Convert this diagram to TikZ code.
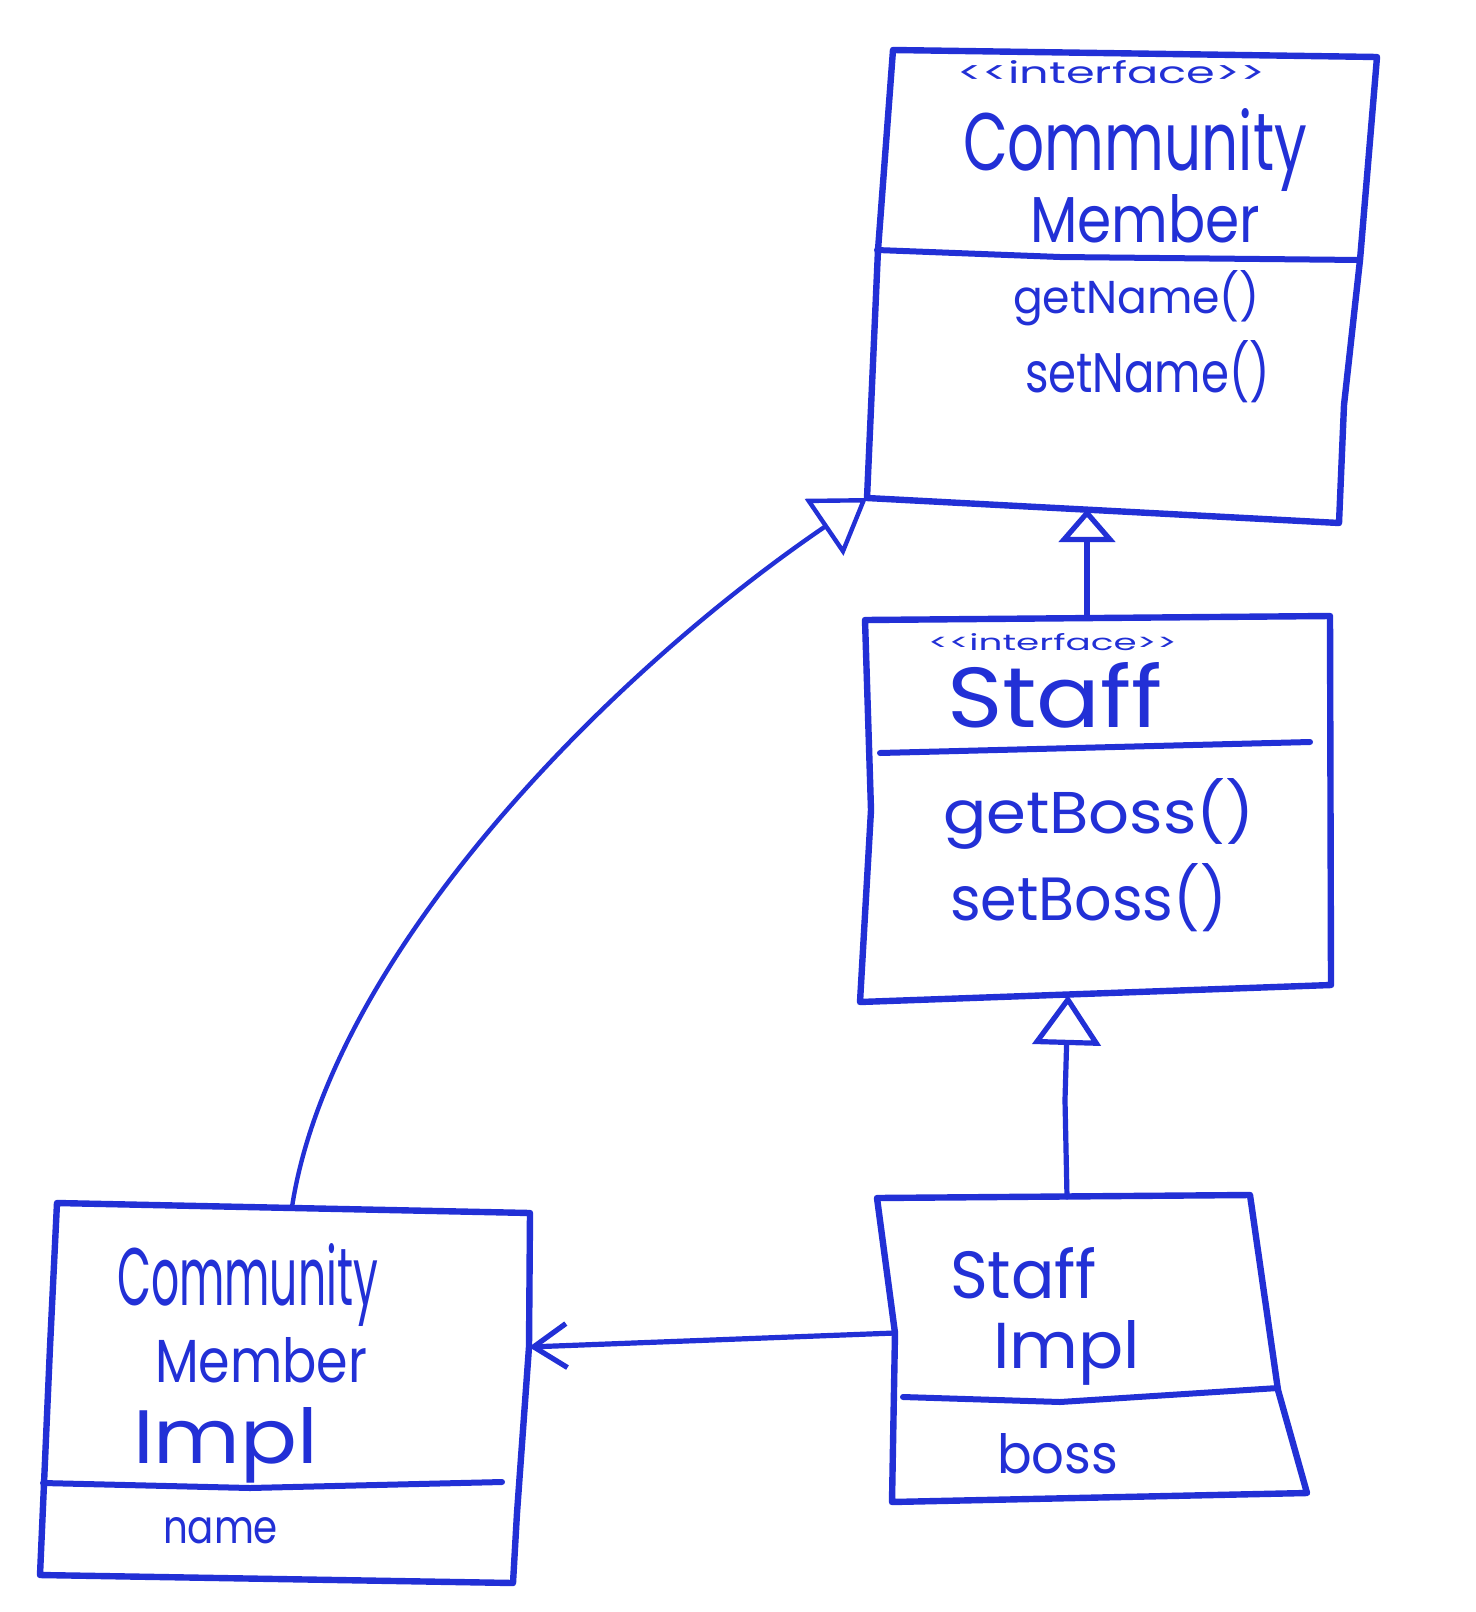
\documentclass[tikz,border=0pt]{standalone}
\usepackage{fontspec}
\setmainfont{Poppins}
\usetikzlibrary{arrows.meta}
\definecolor{handblue}{RGB}{34,48,214}
\newlength\pxu
\setlength\pxu{0.5pt}
\newcommand\fitbox[3]{\resizebox{#1\pxu}{#2\pxu}{#3}}
\newcommand\stereo{<\kern0pt<interface>\kern0pt>}
\begin{document}
\begin{tikzpicture}[x=0.5pt,y=-0.5pt,
  outline/.style={draw=handblue, line width=3.2pt, line join=round, line cap=round},
  divider/.style={draw=handblue, line width=3pt, line cap=round},
  lbl/.style={anchor=base west, inner sep=0pt, outer sep=0pt, text=handblue},
  link/.style={draw=handblue, line width=2.6pt, line cap=round, line join=round},
  curvelink/.style={draw=handblue, line width=2.2pt, line cap=round, line join=round},
  genhead/.style 2 args={-{Triangle[open, length=#1, width=#2, line join=miter]}},
  navhead/.style={-{Straight Barb[length=16.5pt, width=22pt]}}]
\fill[white] (0,0) rectangle (1476,1612);
\useasboundingbox (0,0) rectangle (1476,1612);

% ---------- CommunityMember (interface) ----------
\coordinate (cmTL) at (893,50);
\coordinate (cmTR) at (1377,57);
\coordinate (cmBR) at (1339,523);
\coordinate (cmBL) at (867,498);
\coordinate (cmBot) at (1087,509);
\draw[outline] (cmTL) -- (cmTR) -- (1360,260) -- (1344,405) -- (cmBR) -- (cmBL) -- (878,250) -- cycle;
\draw[divider] (877,250) -- (1060,257) -- (1360,260);
\node[lbl] (cmS) at (957,83) {\fitbox{308}{23}{\stereo}};
\node[lbl] (cmN1) at (963,170) {\fitbox{344}{62}{Community}};
\node[lbl] (cmN2) at (1030,242) {\fitbox{230}{48}{Member}};
\node[lbl] (cmM1) at (1013,313) {\fitbox{247}{43}{getName()}};
\node[lbl] (cmM2) at (1025,392) {\fitbox{245}{52}{setName()}};

% ---------- Staff (interface) ----------
\coordinate (stTL) at (865,620);
\coordinate (stTR) at (1330,616);
\coordinate (stBR) at (1331,985);
\coordinate (stBL) at (860,1002);
\coordinate (stTop) at (1087,618);
\coordinate (stBot) at (1068,995);
\draw[outline] (stTL) -- (stTR) -- (stBR) -- (stBL) -- (871,810) -- cycle;
\draw[divider] (880,753) -- (1310,742);
\node[lbl] (stS) at (928,650) {\fitbox{249}{17}{\stereo}};
\node[lbl] (stN) at (947,727) {\fitbox{216}{65}{Staff}};
\node[lbl] (stM1) at (943,833) {\fitbox{312}{55}{getBoss()}};
\node[lbl] (stM2) at (950,920) {\fitbox{277}{57}{setBoss()}};

% ---------- CommunityMemberImpl ----------
\coordinate (ciTL) at (57,1203);
\coordinate (ciTR) at (530,1213);
\coordinate (ciBR) at (513,1583);
\coordinate (ciBL) at (40,1575);
\coordinate (ciTop) at (292,1207);
\coordinate (ciRight) at (529,1347);
\draw[outline] (ciTL) -- (ciTR) -- (529,1347) -- (517,1513) -- (ciBR) -- (ciBL) -- (50,1347) -- cycle;
\draw[divider] (43,1483) -- (250,1488) -- (502,1482);
\node[lbl] (ciN1) at (117,1305) {\fitbox{261}{62}{Community}};
\node[lbl] (ciN2) at (155,1382) {\fitbox{212}{45}{Member}};
\node[lbl] (ciN3) at (133,1463) {\fitbox{185}{56}{Impl}};
\node[lbl] (ciA) at (163,1543) {\fitbox{115}{26}{name}};

% ---------- StaffImpl ----------
\coordinate (siTL) at (877,1198);
\coordinate (siTR) at (1250,1195);
\coordinate (siBR) at (1307,1493);
\coordinate (siBL) at (892,1502);
\coordinate (siTop) at (1067,1197);
\coordinate (siLeft) at (895,1333);
\draw[outline] (siTL) -- (siTR) -- (1278,1390) -- (siBR) -- (siBL) -- (siLeft) -- cycle;
\draw[divider] (903,1397) -- (1060,1402) -- (1278,1388);
\node[lbl] (siN1) at (950,1298) {\fitbox{147}{51}{Staff}};
\node[lbl] (siN2) at (993,1368) {\fitbox{147}{48}{Impl}};
\node[lbl] (siA) at (997,1473) {\fitbox{121}{40}{boss}};

% ---------- connectors ----------
\draw[link, genhead={16.5pt}{28pt}] (stTop) -- (cmBot);
\draw[curvelink, genhead={26pt}{34pt}] (ciTop) .. controls (330,960) and (600,680) .. (cmBL);
\draw[link, genhead={25pt}{34pt}] (siTop) -- (1065,1100) -- (stBot);
\draw[link, navhead] (siLeft) -- (ciRight);
\end{tikzpicture}
\end{document}
